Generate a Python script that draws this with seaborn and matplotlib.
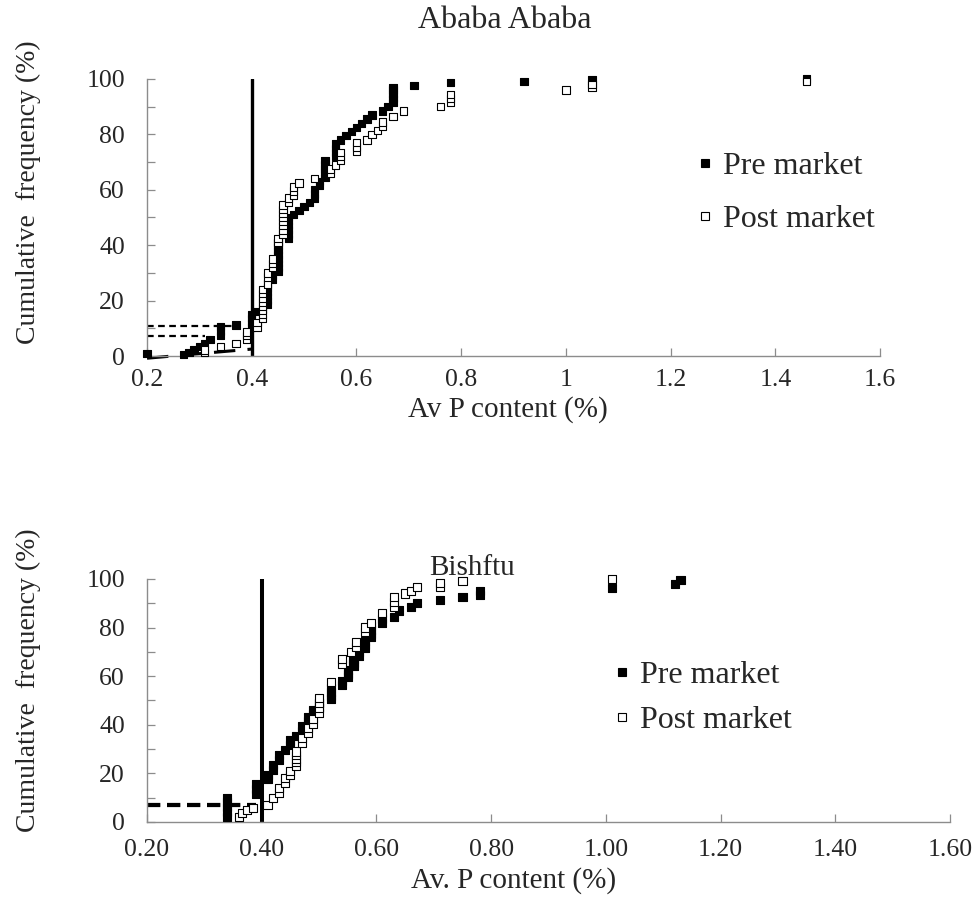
import pandas as pd
import seaborn as sns
import matplotlib.pyplot as plt
from matplotlib.ticker import MultipleLocator, FuncFormatter, FormatStrFormatter

# Ababa Ababa - cumulative frequency of available P content
aa_pre_x = [0.20, 0.27, 0.28, 0.29, 0.30, 0.31, 0.32, 0.34, 0.34, 0.34, 0.37,
            0.40, 0.40, 0.40, 0.40, 0.41, 0.42, 0.43, 0.43, 0.43, 0.43, 0.43, 0.43,
            0.44, 0.44, 0.45, 0.45, 0.45, 0.45, 0.45, 0.45, 0.45, 0.45,
            0.47, 0.47, 0.47, 0.47, 0.47, 0.47, 0.48, 0.49, 0.50, 0.51,
            0.52, 0.52, 0.52, 0.53, 0.53, 0.54, 0.54, 0.54, 0.54, 0.54,
            0.56, 0.56, 0.56, 0.56, 0.57, 0.58, 0.59, 0.60, 0.61, 0.62, 0.63,
            0.65, 0.66, 0.67, 0.67, 0.67, 0.67, 0.67, 0.71, 0.78, 0.92, 1.05, 1.46]
aa_pre_y = [1.0, 0.5, 1.3, 2.3, 3.5, 4.5, 6.0, 7.5, 9.0, 10.5, 11.2,
            10.5, 12.0, 13.5, 15.0, 16.0, 17.0, 18.5, 20.0, 21.5, 23.0, 24.5, 26.0,
            27.5, 29.0, 30.5, 32.0, 33.5, 35.0, 36.5, 38.0, 39.5, 41.0,
            42.5, 44.0, 45.5, 47.0, 48.5, 50.0, 51.0, 52.5, 54.0, 55.5,
            57.0, 58.5, 60.0, 61.5, 63.0, 64.5, 66.0, 67.5, 69.0, 70.5,
            72.0, 73.5, 75.0, 76.5, 78.0, 79.5, 81.0, 82.5, 84.0, 85.5, 87.0,
            88.5, 90.0, 91.5, 93.0, 94.5, 96.0, 97.0, 97.7, 98.7, 99.0, 99.6, 100.0]
aa_post_x = [0.31, 0.31, 0.34, 0.37, 0.39, 0.39, 0.39, 0.41, 0.41,
             0.42, 0.42, 0.42, 0.42, 0.42, 0.42, 0.42, 0.42,
             0.43, 0.43, 0.43, 0.44, 0.44, 0.44, 0.45, 0.45,
             0.46, 0.46, 0.46, 0.46, 0.46, 0.46, 0.46, 0.46,
             0.47, 0.47, 0.48, 0.48, 0.48, 0.49, 0.52, 0.55, 0.55, 0.56,
             0.57, 0.57, 0.57, 0.60, 0.60, 0.60, 0.62, 0.63, 0.64, 0.65, 0.65,
             0.67, 0.69, 0.76, 0.78, 0.78, 0.78, 1.00, 1.05, 1.05, 1.46]
aa_post_y = [1.2, 2.2, 3.4, 4.6, 6.0, 7.5, 8.7, 10.5, 12.0,
             13.5, 15.0, 16.5, 18.0, 19.5, 21.0, 22.5, 24.0,
             26.0, 28.5, 30.0, 32.0, 33.5, 35.0, 41.0, 42.5,
             44.0, 45.5, 47.0, 48.5, 50.0, 51.5, 53.0, 54.5,
             55.5, 57.0, 58.0, 59.5, 61.0, 62.5, 64.0, 66.0, 67.5, 69.0,
             70.5, 72.0, 73.5, 74.0, 75.5, 77.0, 78.0, 80.0, 81.5, 83.0, 84.5,
             86.5, 88.5, 90.0, 91.5, 93.0, 94.5, 96.0, 97.0, 98.0, 99.0]

# Bishftu - cumulative frequency of available P content
bi_pre_x = [0.34, 0.34, 0.34, 0.34, 0.34, 0.39, 0.39, 0.39, 0.41, 0.41,
            0.42, 0.42, 0.43, 0.43, 0.44, 0.45, 0.45, 0.46, 0.47, 0.47,
            0.48, 0.48, 0.49, 0.49, 0.50, 0.50, 0.52, 0.52, 0.52, 0.52,
            0.54, 0.54, 0.55, 0.55, 0.55, 0.56, 0.56, 0.56, 0.57, 0.57,
            0.58, 0.58, 0.58, 0.59, 0.59, 0.59, 0.59, 0.61, 0.61, 0.63,
            0.64, 0.66, 0.67, 0.71, 0.75, 0.78, 0.78, 1.01, 1.12, 1.13]
bi_pre_y = [2.0, 4.0, 6.0, 8.0, 10.0, 11.5, 13.5, 15.5, 17.5, 19.5,
            21.5, 23.5, 25.5, 27.5, 29.5, 31.5, 33.5, 35.5, 37.5, 39.5,
            41.5, 43.0, 44.5, 46.0, 47.5, 49.0, 50.5, 52.0, 53.5, 55.0,
            56.5, 58.0, 59.5, 61.0, 62.5, 64.0, 65.5, 67.0, 68.5, 70.0,
            71.5, 73.0, 74.5, 76.0, 77.5, 79.0, 80.5, 82.0, 83.5, 84.5,
            87.0, 88.5, 90.0, 91.5, 92.5, 93.5, 95.0, 96.3, 98.0, 99.6]
bi_post_x = [0.36, 0.365, 0.375, 0.385, 0.41, 0.42, 0.43, 0.43, 0.44, 0.44,
             0.45, 0.45, 0.46, 0.46, 0.46, 0.46, 0.46, 0.47, 0.47, 0.48, 0.48,
             0.49, 0.49, 0.50, 0.50, 0.50, 0.50, 0.52, 0.54, 0.54, 0.555,
             0.565, 0.565, 0.58, 0.58, 0.59, 0.61, 0.63, 0.63, 0.63,
             0.65, 0.66, 0.67, 0.71, 0.71, 0.75, 1.01]
bi_post_y = [2.2, 3.6, 5.0, 5.7, 7.0, 9.8, 12.0, 14.0, 16.0, 18.0,
             19.5, 21.0, 23.0, 24.5, 26.0, 27.5, 29.0, 32.5, 34.5, 36.5, 38.5,
             40.5, 42.5, 45.0, 47.0, 49.0, 51.0, 57.5, 65.0, 67.0, 70.0,
             72.0, 74.0, 78.0, 80.0, 82.0, 86.0, 88.5, 90.5, 92.5,
             94.0, 95.0, 96.5, 96.5, 98.5, 99.0, 100.0]

# critical value and guide lines
critical_p = 0.4
aa_guide_y = [10.9, 7.3]
aa_guide_end = [0.364, 0.31]
aa_trend_x = [0.2, 0.4]
aa_trend_y = [-0.8, 2.5]
bi_guide_y = [6.5, 7.5]
bi_guide_end = [0.39, 0.39]


def make_frame(pre_x, pre_y, post_x, post_y):
    pre = pd.DataFrame({'x': pre_x, 'y': pre_y, 'market': 'Pre market'})
    post = pd.DataFrame({'x': post_x, 'y': post_y, 'market': 'Post market'})
    return pd.concat([pre, post], ignore_index=True)


sns.set_style("ticks")
plt.rcParams['font.family'] = ['Liberation Serif', 'DejaVu Serif']

fig = plt.figure(figsize=(9.75, 9.14), dpi=100)
ax1 = fig.add_axes([0.1508, 0.6105, 0.7518, 0.3031])
ax2 = fig.add_axes([0.1508, 0.1007, 0.8236, 0.2659])

palette = {'Pre market': 'black', 'Post market': 'white'}
grey = '#8c8c8c'

panels = [
    (ax1, make_frame(aa_pre_x, aa_pre_y, aa_post_x, aa_post_y), 28, 2.4, 9.5),
    (ax2, make_frame(bi_pre_x, bi_pre_y, bi_post_x, bi_post_y), 34, 2.9, 12),
]

for ax, df, size, vlw, xpad in panels:
    ax.axvline(critical_p, color='black', lw=vlw, zorder=2)
    sns.scatterplot(data=df, x='x', y='y', hue='market', palette=palette, marker='s',
                    s=size, edgecolor='black', linewidth=0.8, ax=ax, clip_on=False, zorder=3)
    ax.set_xlim(0.2, 1.6)
    ax.set_ylim(0, 100)
    ax.xaxis.set_major_locator(MultipleLocator(0.2))
    ax.yaxis.set_major_locator(MultipleLocator(20))
    ax.yaxis.set_minor_locator(MultipleLocator(10))
    ax.tick_params(which='both', direction='in', length=6, width=0.9, color=grey)
    ax.tick_params(axis='y', labelsize=18.5, pad=16)
    ax.tick_params(axis='x', labelsize=18.5, pad=xpad)
    sns.despine(ax=ax)
    for side in ['left', 'bottom']:
        ax.spines[side].set_color(grey)
        ax.spines[side].set_linewidth(1)

# guide lines, Ababa Ababa
for gy, gx in zip(aa_guide_y, aa_guide_end):
    ax1.plot([0.2, gx], [gy, gy], color='black', lw=1.6, ls=(0, (3, 2)), zorder=2)
ax1.plot(aa_trend_x, aa_trend_y, color='black', lw=2.2, ls=(0, (7, 4)), zorder=2, clip_on=False)

# guide lines, Bishftu
for gy, gx in zip(bi_guide_y, bi_guide_end):
    ax2.plot([0.2, gx], [gy, gy], color='black', lw=1.6, ls=(0, (6, 3)), zorder=2)

ax1.xaxis.set_major_formatter(FuncFormatter(lambda v, p: f'{round(v, 2):g}'))
ax2.xaxis.set_major_formatter(FormatStrFormatter('%.2f'))

ax1.set_xlabel('Av P content (%)', fontsize=21, va='center')
ax1.xaxis.set_label_coords(0.4925, -0.195)
ax2.set_xlabel('Av. P content (%)', fontsize=21, va='center')
ax2.xaxis.set_label_coords(0.456, -0.239)
for ax in [ax1, ax2]:
    ax.set_ylabel('Cumulative  frequency (%)', fontsize=20, va='center')
ax1.yaxis.set_label_coords(-0.162, 0.592)
ax2.yaxis.set_label_coords(-0.148, 0.584)

fig.text(505 / 975, 1 - 20 / 914, 'Ababa Ababa', ha='center', va='center', fontsize=23)
fig.text(472 / 975, 1 - 568 / 914, 'Bishftu', ha='center', va='center', fontsize=21)

sns.move_legend(ax1, 'center left', bbox_to_anchor=(683 / 975, 1 - 193 / 914),
                bbox_transform=fig.transFigure, title=None, frameon=False, fontsize=23,
                handlelength=0.4, handletextpad=0.35, labelspacing=0.75, borderpad=0,
                markerscale=1.05)
sns.move_legend(ax2, 'center left', bbox_to_anchor=(600 / 975, 1 - 698 / 914),
                bbox_transform=fig.transFigure, title=None, frameon=False, fontsize=23,
                handlelength=0.4, handletextpad=0.35, labelspacing=0.5, borderpad=0,
                markerscale=1.0)

fig.savefig('out.png', dpi=100)
